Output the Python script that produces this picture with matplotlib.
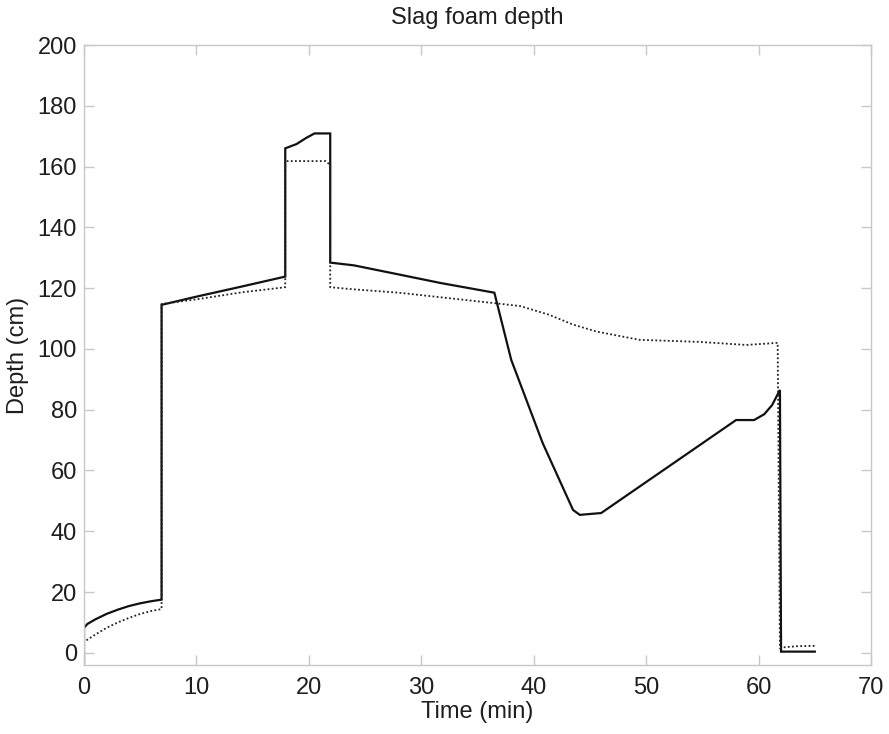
import matplotlib
matplotlib.use("Agg")
import matplotlib.pyplot as plt

# ---- data ----
time_solid = [0.0, 0.0, 0.3, 1.0, 2.0, 3.0, 4.0, 5.0, 6.0, 6.9,
              6.9, 10.0, 14.0, 17.9,
              17.9, 18.9, 19.8, 20.5, 21.9,
              21.9, 24.0, 28.0, 31.7, 36.5,
              38.0, 40.8, 43.5, 44.1, 46.0,
              50.0, 54.0, 58.0, 59.6, 60.5, 61.2, 61.9,
              62.0, 65.0]
depth_solid = [-5.0, 8.2, 9.5, 11.0, 12.8, 14.2, 15.4, 16.3, 17.0, 17.5,
               114.5, 117.2, 120.5, 123.8,
               166.0, 167.4, 169.5, 170.9, 170.9,
               128.4, 127.5, 124.5, 121.7, 118.5,
               96.4, 69.0, 47.0, 45.4, 46.0,
               56.2, 66.4, 76.6, 76.6, 78.5, 81.5, 86.5,
               0.4, 0.4]

time_dotted = [0.0, 0.0, 1.0, 2.0, 3.0, 4.0, 5.0, 6.0, 6.9, 6.9,
               6.9, 10.0, 14.0, 17.9, 17.9,
               17.9, 20.0, 21.5, 21.9,
               21.9, 24.0, 28.0, 31.7, 36.4, 38.8, 41.4, 43.5, 45.6, 49.4,
               54.8, 58.9, 61.7,
               61.9, 62.2, 63.5, 65.0]
depth_dotted = [-5.0, 3.6, 6.0, 8.2, 10.0, 11.5, 12.8, 13.8, 14.4, 16.5,
                114.8, 116.3, 118.6, 120.3, 124.0,
                161.8, 161.8, 161.8, 160.5,
                120.3, 119.6, 118.5, 117.0, 115.1, 114.1, 111.2, 108.0, 105.7, 103.0,
                102.3, 101.3, 102.0,
                1.5, 1.8, 2.2, 2.3]

x_ticks = [0, 10, 20, 30, 40, 50, 60, 70]
y_ticks = [0, 20, 40, 60, 80, 100, 120, 140, 160, 180, 200]

title = "Slag foam depth"
xlabel = "Time (min)"
ylabel = "Depth (cm)"

# ---- figure ----
plt.rcParams['font.family'] = ['Liberation Sans', 'DejaVu Sans']
fig = plt.figure(figsize=(8.89, 7.34), dpi=100)
ax = fig.add_axes([84 / 889, 69 / 734, 787 / 889, 620 / 734])

ax.plot(time_solid, depth_solid, color='#111111', lw=1.6, solid_joinstyle='miter')
ax.plot(time_dotted, depth_dotted, color='#222222', lw=1.3, linestyle=(0, (1, 1.3)))

ax.set_xlim(0, 70)
ax.set_ylim(-4, 200)
ax.set_xticks(x_ticks)
ax.set_yticks(y_ticks)

txt = '#1e1e1e'
frame = '#c8c8c8'
for s in ax.spines.values():
    s.set_color(frame)
    s.set_linewidth(1.0)
ax.tick_params(direction='in', length=7, width=1.0, color=frame,
               labelsize=17, labelcolor=txt, top=True, right=True)
ax.tick_params(axis='x', pad=9)
ax.tick_params(axis='y', pad=5)

ax.set_title(title, fontsize=17, color=txt, pad=15)
ax.set_xlabel(xlabel, fontsize=17, color=txt, labelpad=1)
ax.set_ylabel(ylabel, fontsize=17, color=txt, labelpad=6)

fig.savefig("out.png", dpi=100, facecolor='white')
